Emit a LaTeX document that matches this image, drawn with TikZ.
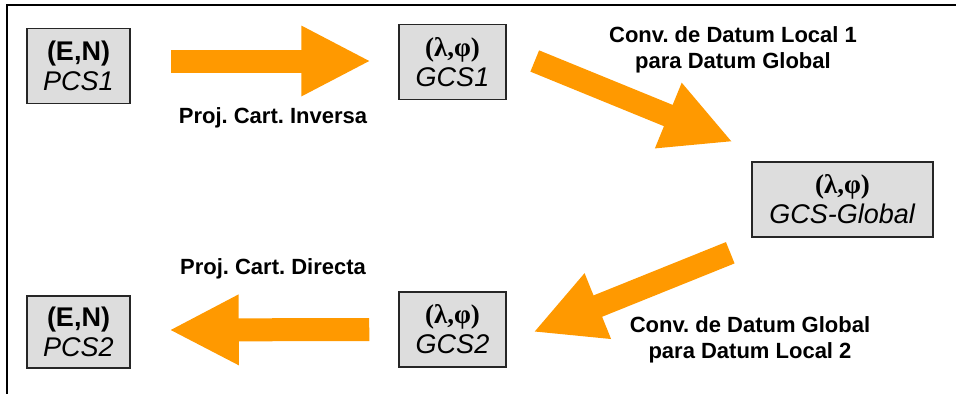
\documentclass[tikz,border=0pt]{standalone}
\usepackage{fontspec}
\setmainfont{Liberation Sans}
\newfontfamily\greekfont{Liberation Serif}
\usetikzlibrary{arrows.meta,calc}
\definecolor{boxgray}{RGB}{221,221,221}
\definecolor{arroworange}{RGB}{255,153,0}
\tikzset{
	cbox/.style={draw=black!85, line width=1.5pt, fill=boxgray, minimum height=75pt, align=center, inner sep=0pt, font=\fontsize{27}{30}\selectfont},
	bigarrow/.style={line width=23pt, line cap=rect, shorten <=11.5pt, draw=arroworange, -{Triangle[length=68pt, width=71pt, line width=0pt 0 0]}},
	lbl/.style={align=center, font=\fontsize{22}{26}\selectfont\bfseries}
}
\newcommand{\lamphi}{{\greekfont\bfseries(λ,φ)}}

\begin{document}
\frenchspacing
\begin{tikzpicture}[x=1pt, y=-1pt]
		\useasboundingbox (0,0) rectangle (956,394);
		\draw[line width=2pt] (956,5) -- (7,5) -- (7,394);
		\draw (78.5,66) node[cbox, minimum width=103pt](pcs1){\textbf{(E,N)}\\\textit{PCS1}};
		\draw (452.5,62) node[cbox, minimum width=107pt](gcs1){\lamphi\\\textit{GCS1}};
		\draw (842.5,199.5) node[cbox, minimum width=181pt](gcsg){\lamphi\\\textit{GCS-Global}};
		\draw (452.5,329.5) node[cbox, minimum width=107pt](gcs2){\lamphi\\\textit{GCS2}};
		\draw (78.5,332) node[cbox, minimum width=103pt, minimum height=72pt](pcs2){\textbf{(E,N)}\\\textit{PCS2}};
		\draw[bigarrow] ($(pcs1.east)+(40,-5)$) -- ($(gcs1.west)+(-29,-1)$);
		\draw[bigarrow] ($(gcs1.east)+(28,-1)$) -- ($(gcsg.north west)+(-20,-20)$);
		\draw[bigarrow] ($(gcsg.south west)+(-21,15)$) -- ($(gcs2.east)+(28,2)$);
		\draw[bigarrow] ($(gcs2.west)+(-29,0)$) -- ($(pcs2.east)+(40,-2)$);
		\draw (273,118) node[lbl](inv){Proj. Cart. Inversa};
		\draw (733,50) node[lbl](conv1){Conv. de Datum Local 1\\para Datum Global};
		\draw (750,340) node[lbl](conv2){Conv. de Datum Global\\para Datum Local 2};
		\draw (273,269) node[lbl](dir){Proj. Cart. Directa};
	\end{tikzpicture}
\end{document}
